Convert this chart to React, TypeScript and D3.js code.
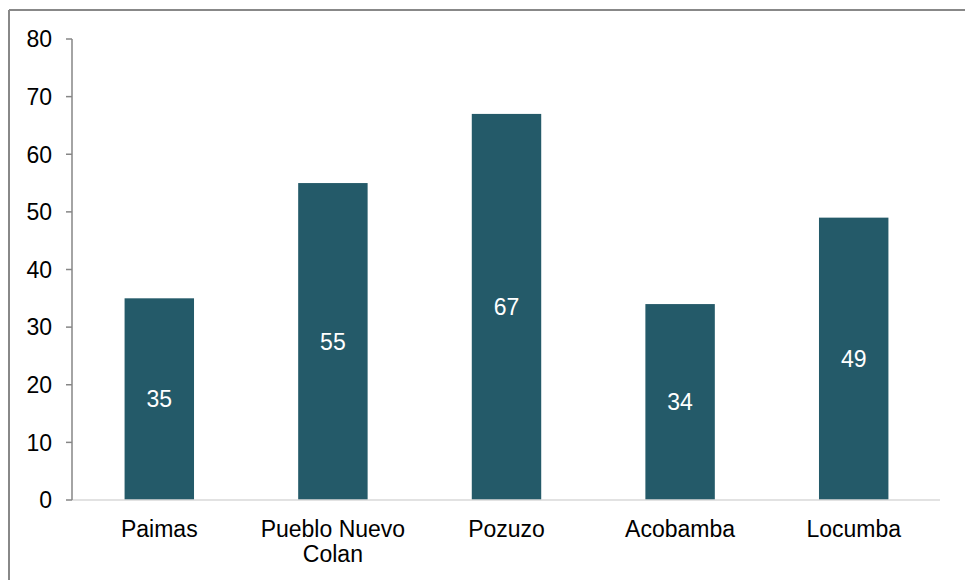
import React from "react";
import * as d3 from "d3";

const categories: string[][] = [
  ["Paimas"],
  ["Pueblo Nuevo", "Colan"],
  ["Pozuzo"],
  ["Acobamba"],
  ["Locumba"],
];
const values: number[] = [35, 55, 67, 34, 49];
const yTicks: number[] = [0, 10, 20, 30, 40, 50, 60, 70, 80];

const W = 965;
const H = 580;
const margin = { left: 72, right: 25, top: 39, bottom: 80 };
const FONT = "'Liberation Sans', Arial, sans-serif";
const FS = 23;
const BAR = "#245a69";

export default function App() {
  const x = d3
    .scaleBand<number>()
    .domain(values.map((_, i) => i))
    .range([margin.left, W - margin.right])
    .paddingInner(0.6)
    .paddingOuter(0.3);
  const y = d3.scaleLinear().domain([0, 80]).range([H - margin.bottom, margin.top]);
  const y0 = y(0);

  return (
    <svg
      width={W}
      height={H}
      style={{ position: "fixed", left: 0, top: 0, background: "#fff" }}
      fontFamily={FONT}
    >
      {/* outer frame (left and top edges) */}
      <line x1={9} y1={10} x2={W} y2={10} stroke="#888" strokeWidth={2} />
      <line x1={9} y1={10} x2={9} y2={H} stroke="#888" strokeWidth={2} />

      {/* bars */}
      {values.map((v, i) => (
        <rect
          key={i}
          x={x(i)! + 0.5}
          y={y(v)}
          width={x.bandwidth()}
          height={y0 - y(v)}
          fill={BAR}
        />
      ))}

      {/* value labels */}
      {values.map((v, i) => (
        <text
          key={"v" + i}
          x={x(i)! + 0.5 + x.bandwidth() / 2}
          y={(y(v) + y0) / 2}
          dy="0.36em"
          textAnchor="middle"
          fontSize={FS}
          fill="#fff"
        >
          {v}
        </text>
      ))}

      {/* x axis baseline */}
      <line x1={margin.left} y1={y0} x2={W - margin.right} y2={y0} stroke="#d9d9d9" strokeWidth={1.5} />

      {/* y axis */}
      <line x1={margin.left} y1={y(80)} x2={margin.left} y2={y0} stroke="#868686" strokeWidth={1.5} />
      {yTicks.map((t) => (
        <g key={t}>
          <line x1={margin.left - 6} x2={margin.left} y1={y(t)} y2={y(t)} stroke="#868686" strokeWidth={1.5} />
          <text x={52} y={y(t)} dy="0.36em" textAnchor="end" fontSize={FS} fill="#000">
            {t}
          </text>
        </g>
      ))}

      {/* category labels */}
      {categories.map((lines, i) => (
        <text
          key={"c" + i}
          x={x(i)! + 0.5 + x.bandwidth() / 2}
          y={y0 + 37}
          textAnchor="middle"
          fontSize={FS}
          fill="#000"
        >
          {lines.map((l, j) => (
            <tspan key={j} x={x(i)! + 0.5 + x.bandwidth() / 2} dy={j === 0 ? 0 : 25}>
              {l}
            </tspan>
          ))}
        </text>
      ))}
    </svg>
  );
}
